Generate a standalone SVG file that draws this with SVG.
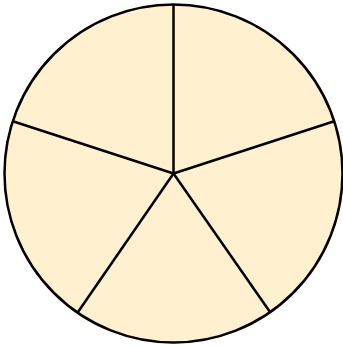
<svg xmlns="http://www.w3.org/2000/svg" width="343" height="346" viewBox="0 0 343 346">
<style>
.sec{fill:#FFF0CF;stroke:none}
.ln{stroke:#000;stroke-width:2.5;fill:none;stroke-linecap:butt}
</style>
<rect width="343" height="346" fill="#fff"/>
<g id="sectors">
<g id="s1"><path class="sec" d="M173.5,173.5 L173.5,4.5 A169,169 0 0 1 334.2,121.3 Z"/></g>
<g id="s2"><path class="sec" d="M173.5,173.5 L334.2,121.3 A169,169 0 0 1 272.8,310.2 Z"/></g>
<g id="s3"><path class="sec" d="M173.5,173.5 L272.8,310.2 A169,169 0 0 1 74.2,310.2 Z"/></g>
<g id="s4"><path class="sec" d="M173.5,173.5 L74.2,310.2 A169,169 0 0 1 12.8,121.3 Z"/></g>
<g id="s5"><path class="sec" d="M173.5,173.5 L12.8,121.3 A169,169 0 0 1 173.5,4.5 Z"/></g>
</g>
<g id="connectors">
<circle class="ln" cx="173.5" cy="173.5" r="169"/>
<line class="ln" x1="173.5" y1="173.5" x2="173.5" y2="4.5"/>
<line class="ln" x1="173.5" y1="173.5" x2="334.2" y2="121.3"/>
<line class="ln" x1="173.5" y1="173.5" x2="270" y2="312"/>
<line class="ln" x1="173.5" y1="173.5" x2="78" y2="312"/>
<line class="ln" x1="173.5" y1="173.5" x2="12.8" y2="121.3"/>
</g>
</svg>
